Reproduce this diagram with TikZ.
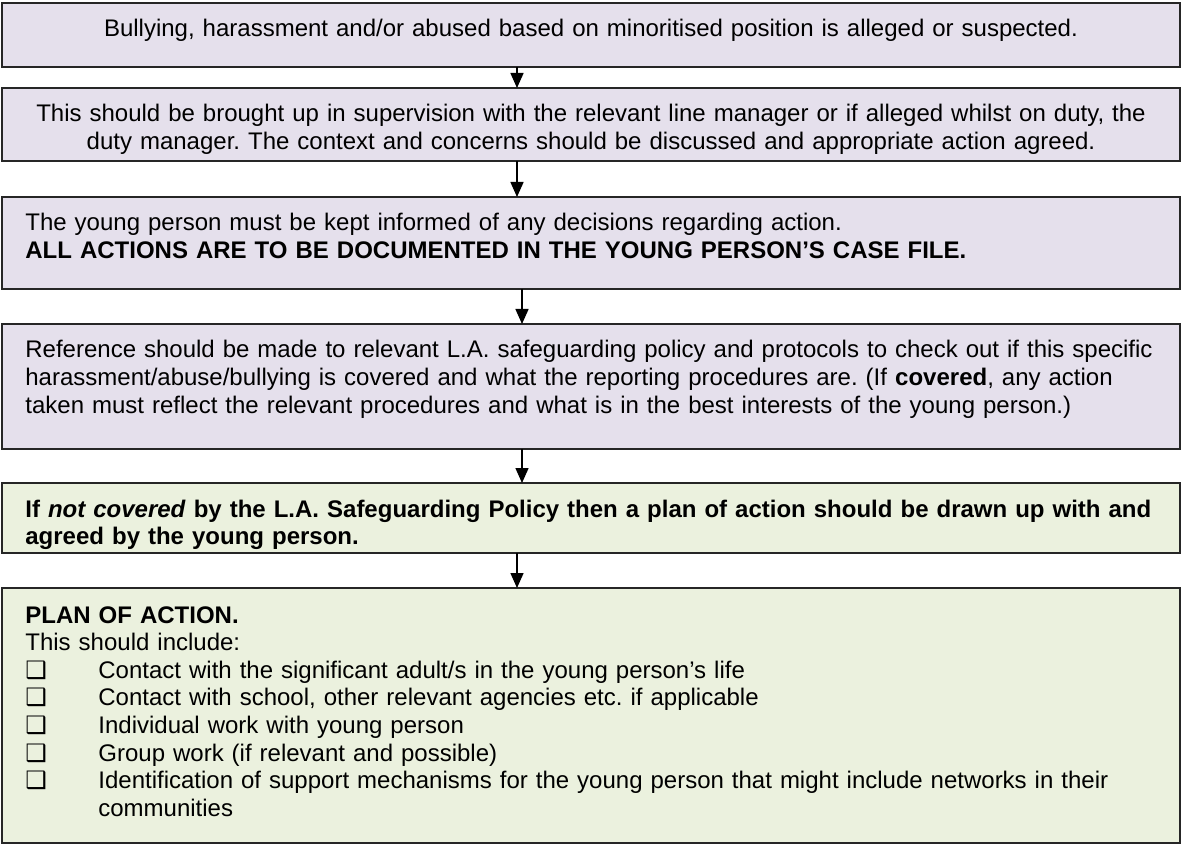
\documentclass[tikz,border=0pt]{standalone}
\usepackage{fontspec}
\setmainfont{Liberation Sans}
\newfontfamily\symfont{DejaVu Sans}
\usetikzlibrary{arrows.meta}
\definecolor{lav}{HTML}{E5E0EC}
\definecolor{olive}{HTML}{EBF1DE}
\newcommand\chk[0]{\makebox[36.5pt][l]{\symfont ❑}}
\frenchspacing

\begin{document}
\begin{tikzpicture}[x=0.5pt,y=-0.5pt,
  box/.style={draw=black!85,line width=0.75pt,anchor=north west,inner sep=0pt,outer sep=0pt,minimum width=589pt},
  txt/.style={inner sep=0pt,text width=566pt,font=\fontsize{12pt}{13.8pt}\selectfont},
  arr/.style={black,line width=0.75pt,-{Triangle[length=7.5pt,width=6.5pt]}}]

\useasboundingbox (0,0) rectangle (1183,844);

\node[box,fill=lav,minimum height=32pt] (b1) at (2,3) {};
\node[box,fill=lav,minimum height=36.5pt] (b2) at (2,88) {};
\node[box,fill=lav,minimum height=46pt] (b3) at (2,197) {};
\node[box,fill=lav,minimum height=62.5pt] (b4) at (2,324) {};
\node[box,fill=olive,minimum height=35pt] (b5) at (2,483) {};
\node[box,fill=olive,minimum height=127.5pt] (b6) at (2,588) {};

\node[txt,anchor=base,align=center] (t1) at (591,37) {Bullying, harassment and/or abused based on minoritised position is alleged or suspected.};
\node[txt,anchor=base,align=center] (t2) at (591,122) {This should be brought up in supervision with the relevant line manager or if alleged whilst on duty, the\\ duty manager. The context and concerns should be discussed and appropriate action agreed.};
\node[txt,anchor=base west,align=left] (t3) at (25,231) {The young person must be kept informed of any decisions regarding action.\\ \textbf{ALL ACTIONS ARE TO BE DOCUMENTED IN THE YOUNG PERSON’S CASE FILE.}};
\node[txt,anchor=base west,align=left] (t4) at (25,358) {Reference should be made to relevant L.A. safeguarding policy and protocols to check out if this specific\\ harassment/abuse/bullying is covered and what the reporting procedures are. (If \textbf{covered}, any action\\ taken must reflect the relevant procedures and what is in the best interests of the young person.)};
\node[txt,anchor=base west,align=left] (t5) at (25,517) {\bfseries If \textit{not covered} by the L.A. Safeguarding Policy then a plan of action should be drawn up with and\\ agreed by the young person.};
\node[txt,anchor=base west,align=left] (t6) at (25,623) {\textbf{PLAN OF ACTION.}\\ This should include:\\
\chk Contact with the significant adult/s in the young person’s life\\
\chk Contact with school, other relevant agencies etc. if applicable\\
\chk Individual work with young person\\
\chk Group work (if relevant and possible)\\
\chk Identification of support mechanisms for the young person that might include networks in their\\
\hspace*{36.5pt}communities};

\draw[arr] ([xshift=-37pt]b1.south) -- ([xshift=-37pt]b2.north);
\draw[arr] ([xshift=-37pt]b2.south) -- ([xshift=-37pt]b3.north);
\draw[arr] ([xshift=-34.5pt]b3.south) -- ([xshift=-34.5pt]b4.north);
\draw[arr] ([xshift=-34.5pt]b4.south) -- ([xshift=-34.5pt]b5.north);
\draw[arr] ([xshift=-37pt]b5.south) -- ([xshift=-37pt]b6.north);
\end{tikzpicture}
\end{document}
